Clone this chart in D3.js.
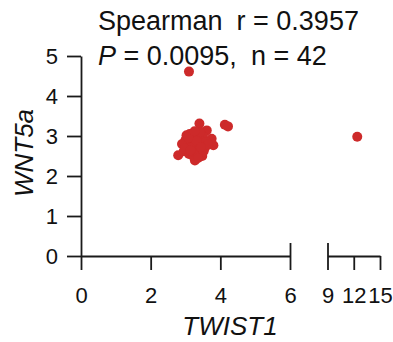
<!DOCTYPE html>
<html>
<head>
<meta charset="utf-8">
<script src="https://cdn.jsdelivr.net/npm/d3@7"></script>
<style>
    body { margin: 0; background: #fff; }
    svg text { font-family: "Liberation Sans", Arial, sans-serif; fill: #111; }
</style>
</head>
<body>
<svg id="chart"></svg>
<script>
// TWIST1 (x) vs WNT5a (y), one entry per sample
const twist1 = [3.10, 12.4, 4.13, 4.22, 3.40, 3.61, 2.79, 3.27, 3.80, 3.75, 3.03,
    2.95, 3.05, 3.15, 3.20, 3.10, 3.25, 3.35, 3.45, 3.30, 3.50, 3.40, 3.55, 3.00, 2.90,
    3.12, 3.22, 3.38, 3.48, 3.60, 3.18, 3.32, 2.98, 3.42, 3.08, 3.28, 3.52, 3.65, 3.36,
    3.14, 3.44, 3.26];
const wnt5a = [4.61, 2.98, 3.28, 3.24, 3.31, 3.14, 2.52, 2.39, 2.77, 2.93, 3.02,
    2.62, 2.75, 2.85, 2.95, 2.55, 2.65, 2.75, 2.85, 3.05, 3.00, 2.60, 2.70, 2.90, 2.80,
    3.05, 2.50, 2.95, 2.50, 2.85, 2.72, 2.88, 2.68, 3.10, 2.96, 2.58, 2.62, 2.78, 2.45,
    2.64, 2.72, 3.12];

const xTicksLow = [0, 2, 4, 6];
const xTicksHigh = [9, 12, 15];
const yTicks = [0, 1, 2, 3, 4, 5];

const width = 393, height = 342;
const svg = d3.select("#chart").attr("width", width).attr("height", height);

// broken x axis: two linear pieces
const xLow = d3.scaleLinear().domain([0, 6]).range([81, 290]);
const xHigh = d3.scaleLinear().domain([9, 15]).range([327.5, 380]);
const xPos = v => v <= 6 ? xLow(v) : xHigh(v);
const y = d3.scaleLinear().domain([0, 5]).range([256, 56]);
const fmt = d3.format("d");

const styleAxis = g => {
    g.selectAll("path, line").attr("stroke", "#1a1a1a").attr("stroke-width", 1.8);
    g.selectAll("text").attr("font-size", 22).attr("fill", "#111")
        .style("font-family", "'Liberation Sans', Arial, sans-serif");
};

const gxLow = svg.append("g")
    .attr("transform", `translate(0, ${y(0)})`)
    .call(d3.axisBottom(xLow).tickValues(xTicksLow).tickFormat(fmt)
        .tickSize(14).tickSizeOuter(0).tickPadding(17))
    .call(styleAxis);

const gxHigh = svg.append("g")
    .attr("transform", `translate(0, ${y(0)})`)
    .call(d3.axisBottom(xHigh).tickValues(xTicksHigh).tickFormat(fmt)
        .tickSize(14).tickSizeOuter(0).tickPadding(17))
    .call(styleAxis);

// the ticks next to the break stick out above the line too
gxLow.selectAll(".tick").filter(d => d === 6).select("line").attr("y1", -13);
gxHigh.selectAll(".tick").filter(d => d === 9).select("line").attr("y1", -13);

svg.append("g")
    .attr("transform", `translate(${xLow(0)}, 0)`)
    .call(d3.axisLeft(y).tickValues(yTicks).tickFormat(fmt)
        .tickSize(14).tickSizeOuter(0).tickPadding(9))
    .call(styleAxis);

// points
svg.append("g")
    .selectAll("circle")
    .data(d3.range(twist1.length))
    .join("circle")
    .attr("cx", i => xPos(twist1[i]))
    .attr("cy", i => y(wnt5a[i]))
    .attr("r", 5)
    .attr("fill", "#cd2a2a");

// axis titles
svg.append("text")
    .attr("x", 230).attr("y", 335)
    .attr("text-anchor", "middle")
    .attr("font-size", 26).attr("font-style", "italic")
    .text("TWIST1");

svg.append("text")
    .attr("transform", "translate(33, 153) rotate(-90)")
    .attr("text-anchor", "middle")
    .attr("font-size", 26).attr("font-style", "italic")
    .text("WNT5a");

// stats annotation (double spaces done with dx)
const note = svg.append("g").attr("font-size", 27);
const line1 = note.append("text").attr("x", 98).attr("y", 30);
line1.append("tspan").text("Spearman");
line1.append("tspan").attr("dx", 14).text("r = 0.3957");
const line2 = note.append("text").attr("x", 98).attr("y", 65);
line2.append("tspan").attr("font-style", "italic").text("P");
line2.append("tspan").text(" = 0.0095,");
line2.append("tspan").attr("dx", 14).text("n = 42");
</script>
</body>
</html>
